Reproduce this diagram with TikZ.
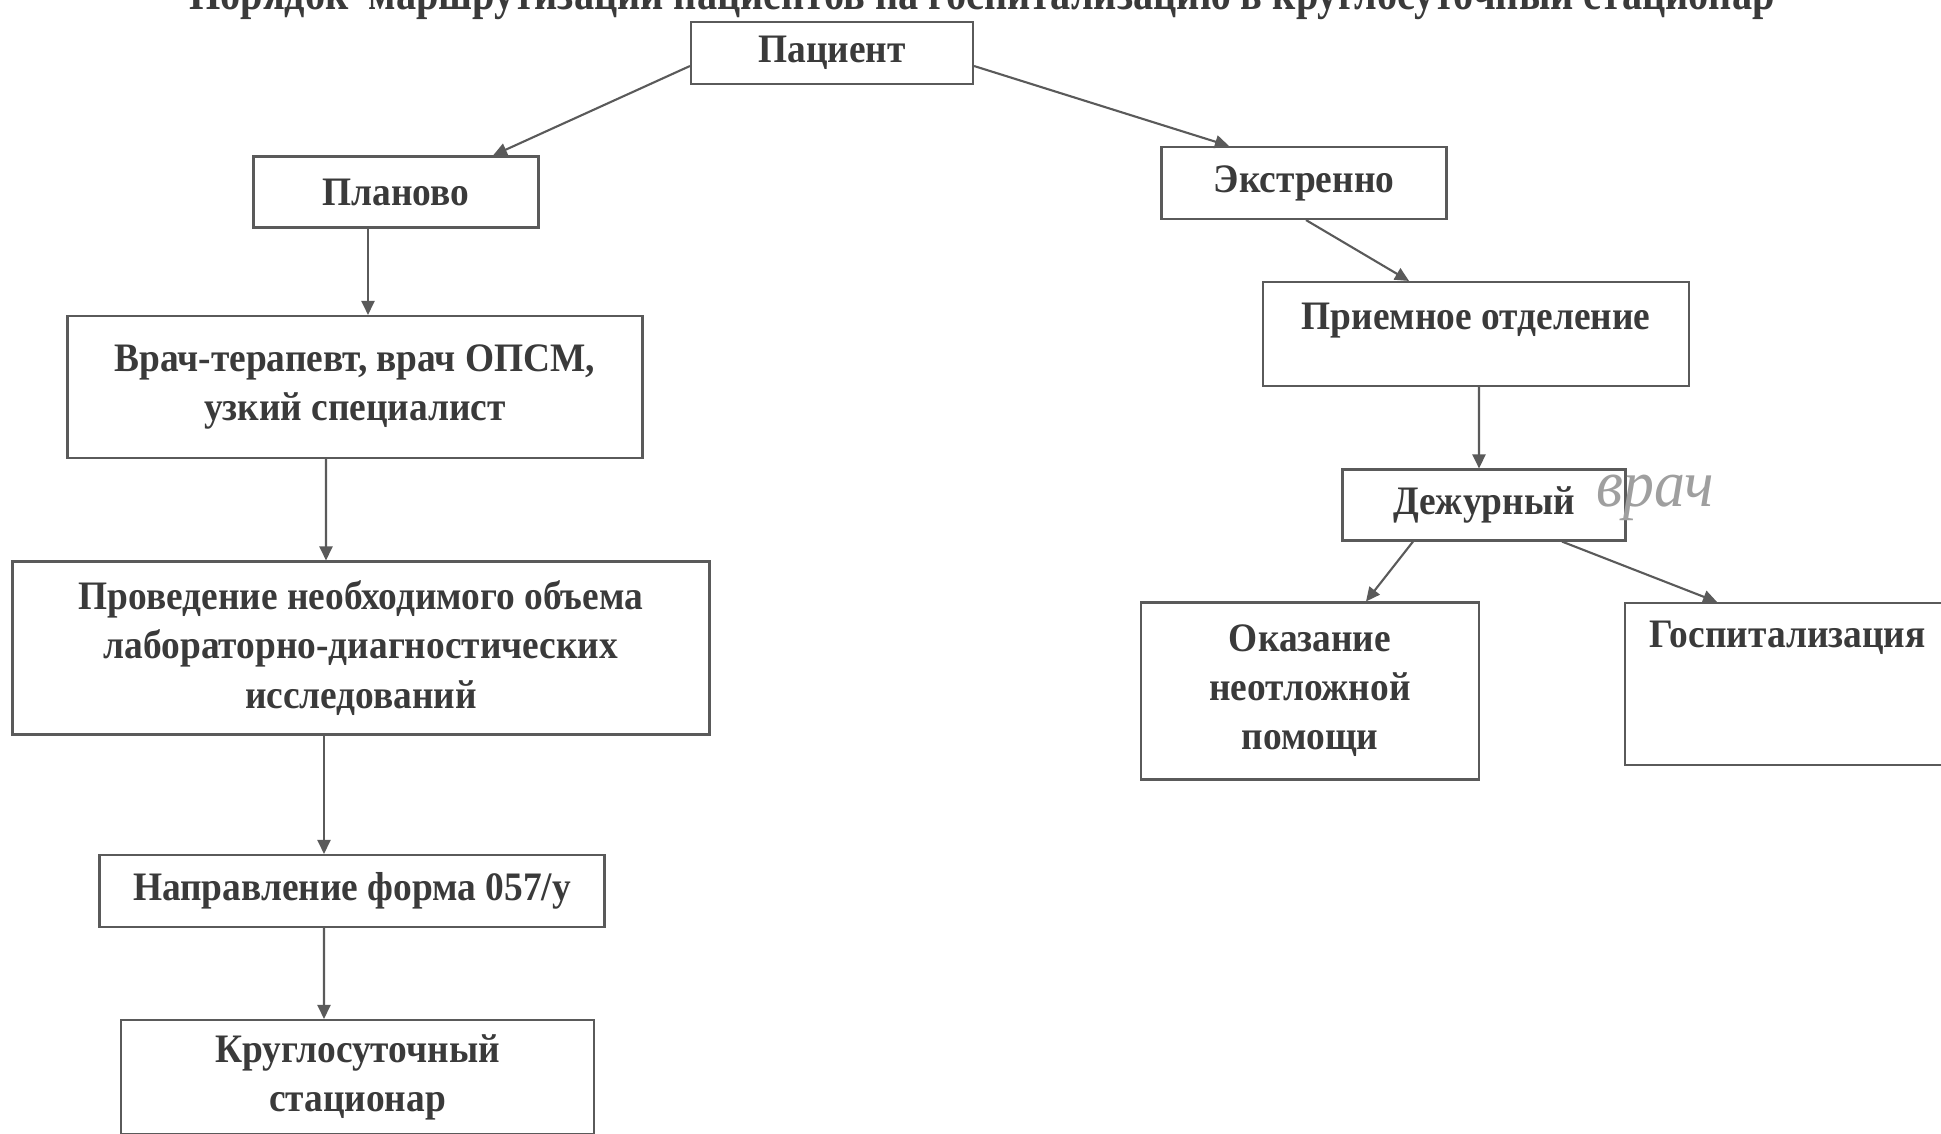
\documentclass[tikz,border=0pt]{standalone}
\usepackage{fontspec}
\setmainfont{Liberation Serif}[FakeStretch=0.925]
\newfontfamily\titlefont{Liberation Serif}[FakeStretch=0.85]
\usetikzlibrary{arrows.meta}
\definecolor{ink}{HTML}{3A3A3A}
\definecolor{frame}{HTML}{5A5A5A}

\begin{document}
\begin{tikzpicture}[
	font=\bfseries\fontsize{11.5}{13.95}\selectfont,
	text=ink,
	box/.style={draw=frame, line width=0.6pt, rectangle, align=center, inner sep=2pt},
	pointer/.style={-{Triangle[length=1.4mm, width=1.3mm]}, draw=frame, line width=0.6pt}
]
\useasboundingbox (0,0) rectangle (19.41,-11.33);

% title, cut by the top edge
\node[anchor=base, font=\titlefont\bfseries\fontsize{13.5}{15}\selectfont] (title) at (9.82,-0.09)
	{Порядок\ \ маршрутизации пациентов на госпитализацию в круглосуточный стационар};

\node[box, minimum width=2.82cm, minimum height=0.62cm] (pat) at (8.32,-0.53) {Пациент};
\node[box, minimum width=2.85cm, minimum height=0.71cm] (plan) at (3.96,-1.92) {Планово};
\node[box, minimum width=2.85cm, minimum height=0.72cm] (extr) at (13.04,-1.83) {Экстренно};
\node[box, minimum width=5.75cm, minimum height=1.42cm] (doc) at (3.55,-3.87)
	{Врач-терапевт, врач ОПСМ,\\узкий специалист};
\node[box, minimum width=4.26cm, minimum height=1.04cm, text height=0.3cm, text depth=0.4cm] (recv) at (14.76,-3.34)
	{Приемное отделение};
\node[box, minimum width=6.97cm, minimum height=1.73cm] (exam) at (3.61,-6.48)
	{Проведение необходимого объема\\лабораторно-диагностических\\исследований};
\node[box, minimum width=2.83cm, minimum height=0.71cm] (duty) at (14.84,-5.05) {Дежурный};
\node[box, minimum width=3.38cm, minimum height=1.77cm] (help) at (13.10,-6.91)
	{Оказание\\неотложной\\помощи};
\node[box, minimum width=3.25cm, minimum height=1.62cm, text height=0.3cm, text depth=1.04cm] (hosp) at (17.875,-6.84)
	{Госпитализация};
\node[box, minimum width=5.05cm, minimum height=0.72cm] (refer) at (3.52,-8.91) {Направление форма 057/у};
\node[box, minimum width=4.73cm, minimum height=1.14cm] (ward) at (3.575,-10.77)
	{Круглосуточный\\стационар};

% handwritten note
\node[font=\itshape\fontsize{19}{21}\selectfont, text=gray!75] (note) at (16.55,-4.98) {врач};

\draw[pointer] ([yshift=-0.13cm]pat.west) -- ([xshift=0.97cm]plan.north);
\draw[pointer] ([yshift=-0.13cm]pat.east) -- ([xshift=-0.75cm]extr.north);
\draw[pointer] ([xshift=-0.28cm]plan.south) -- ([xshift=0.13cm]doc.north);
\draw[pointer] ([xshift=0.02cm]extr.south) -- ([xshift=-0.67cm]recv.north);
\draw[pointer] ([xshift=-0.29cm]doc.south) -- ([xshift=-0.35cm]exam.north);
\draw[pointer] ([xshift=0.03cm]recv.south) -- ([xshift=-0.05cm]duty.north);
\draw[pointer] ([xshift=-0.37cm]exam.south) -- ([xshift=-0.28cm]refer.north);
\draw[pointer] ([xshift=-0.28cm]refer.south) -- ([xshift=-0.335cm]ward.north);
\draw[pointer] ([xshift=-0.71cm]duty.south) -- ([xshift=0.56cm]help.north);
\draw[pointer] ([xshift=0.78cm]duty.south) -- ([xshift=-0.705cm]hosp.north);

\end{tikzpicture}
\end{document}
